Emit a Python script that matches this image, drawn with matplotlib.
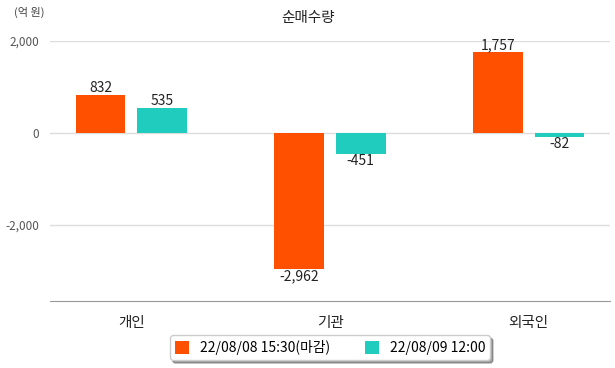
import matplotlib.pyplot as plt
import numpy as np

plt.rcParams['font.family'] = ['Noto Sans CJK KR', 'DejaVu Sans']

categories = ['개인', '기관', '외국인']
series_names = ['22/08/08 15:30(마감)', '22/08/09 12:00']
values_0808 = [832, -2962, 1757]
values_0809 = [535, -451, -82]
colors = ['#FF5000', '#20CCBE']

fig = plt.figure(figsize=(6.15, 3.68), dpi=100)
ax = fig.add_axes([50 / 615, 67 / 368, 560 / 615, 260 / 368])

x = np.arange(len(categories))
w = 0.25
off = 0.155
for vals, dx, c, name in [(values_0808, -off, colors[0], series_names[0]),
                          (values_0809, off, colors[1], series_names[1])]:
    bars = ax.bar(x + dx, vals, width=w, color=c, label=name, zorder=3)
    for b, v in zip(bars, vals):
        if v >= 0:
            ax.text(b.get_x() + w / 2, v, f'{v:,}', ha='center', va='bottom',
                    fontsize=10, color='#222222')
        else:
            ax.text(b.get_x() + w / 2, v, f'{v:,}', ha='center', va='top',
                    fontsize=10, color='#222222')

ax.set_xlim(-0.41, 2.41)
ax.set_ylim(-3650, 2000)
ax.set_yticks([-2000, 0, 2000])
ax.set_yticklabels(['-2,000', '0', '2,000'])
ax.set_xticks(x)
ax.set_xticklabels(categories)
ax.grid(axis='y', color='#DDDDDD', linewidth=1, zorder=0)
for s in ['top', 'right', 'left']:
    ax.spines[s].set_visible(False)
ax.spines['bottom'].set_color('#999999')
ax.tick_params(axis='y', length=0, labelsize=8.5, labelcolor='#555555', pad=8)
ax.tick_params(axis='x', length=0, labelsize=10.5, labelcolor='#222222', pad=11)

fig.text(0.5, 1 - 18 / 368, '순매수량', ha='center', va='center', fontsize=10.5, color='#222222')
fig.text(14 / 615, 1 - 12 / 368, '(억 원)', ha='left', va='center', fontsize=8, color='#444444')

leg = ax.legend(loc='center', bbox_to_anchor=(0.5, -0.18), ncol=2, frameon=True,
                fontsize=10, handlelength=1.0, handleheight=1.0, columnspacing=2.5,
                fancybox=True, shadow=True, borderpad=0.35)
leg.get_frame().set_edgecolor('#CCCCCC')

plt.savefig('out.png', dpi=100)
